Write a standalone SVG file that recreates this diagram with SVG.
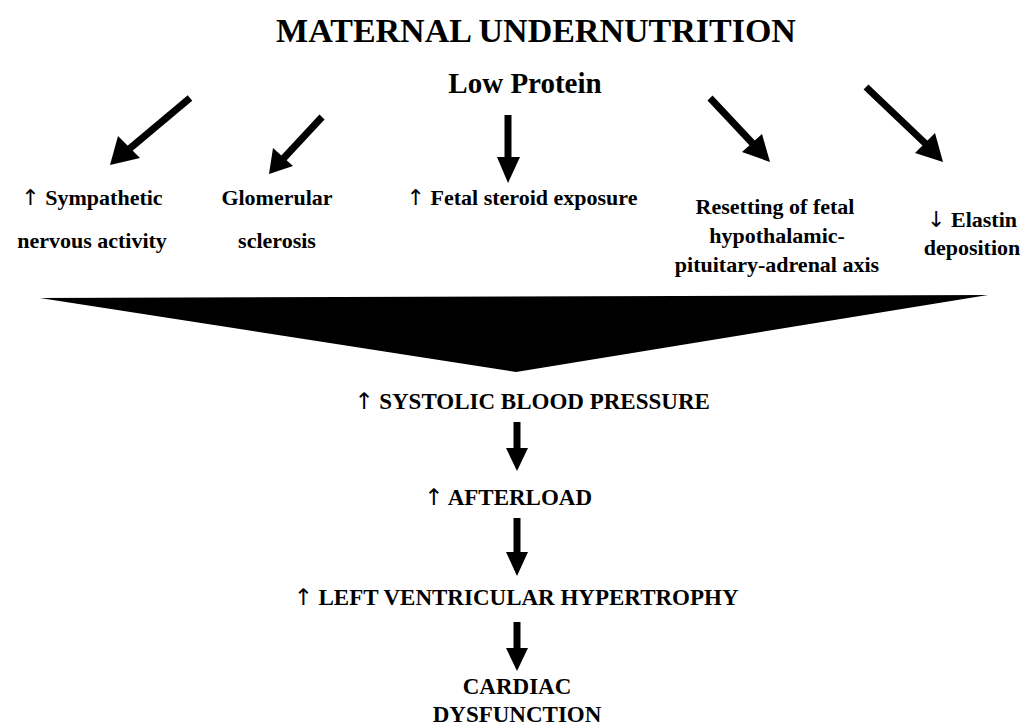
<svg xmlns="http://www.w3.org/2000/svg" width="1032" height="728" viewBox="0 0 1032 728">
<defs>
<style>
text{font-family:"Liberation Serif","Times New Roman",serif;font-weight:bold;fill:#000;}
.title{font-size:34px;}
.sub{font-size:29px;}
.lbl{font-size:22px;}
.big{font-size:23px;}
.ar{font-weight:normal;font-family:"DejaVu Sans","Liberation Sans",sans-serif;}
.shaft{stroke:#000;stroke-width:7;fill:none;}
.head{fill:#000;}
</style>
</defs>
<rect width="1032" height="728" fill="#fff"/>
<g id="title"><text class="title" x="536" y="42" text-anchor="middle">MATERNAL UNDERNUTRITION</text></g>
<g id="low-protein"><text class="sub" x="525" y="93" text-anchor="middle">Low Protein</text></g>
<g id="sympathetic"><text class="lbl" x="92" y="205" text-anchor="middle"><tspan class="ar">↑</tspan> Sympathetic</text><text class="lbl" x="92" y="248" text-anchor="middle">nervous activity</text></g>
<g id="glomerular"><text class="lbl" x="277" y="205" text-anchor="middle">Glomerular</text><text class="lbl" x="277" y="248" text-anchor="middle">sclerosis</text></g>
<g id="steroid"><text class="lbl" x="522" y="205" text-anchor="middle"><tspan class="ar">↑</tspan> Fetal steroid exposure</text></g>
<g id="hpa"><text class="lbl" x="775" y="214" text-anchor="middle">Resetting of  fetal</text><text class="lbl" x="777" y="243" text-anchor="middle">hypothalamic-</text><text class="lbl" x="777" y="272" text-anchor="middle">pituitary-adrenal axis</text></g>
<g id="elastin"><text class="lbl" x="972" y="227" text-anchor="middle"><tspan class="ar">↓</tspan> Elastin</text><text class="lbl" x="972" y="255" text-anchor="middle">deposition</text></g>
<g id="funnel"><polygon points="40,298 988,295 516,372" fill="#000"/></g>
<g id="sbp"><text class="big" x="532" y="409" text-anchor="middle"><tspan class="ar">↑</tspan> SYSTOLIC BLOOD PRESSURE</text></g>
<g id="afterload"><text class="big" x="508" y="505" text-anchor="middle"><tspan class="ar">↑</tspan> AFTERLOAD</text></g>
<g id="lvh"><text class="big" x="516" y="605" text-anchor="middle"><tspan class="ar">↑</tspan>  LEFT VENTRICULAR HYPERTROPHY</text></g>
<g id="cardiac"><text class="big" x="517" y="694" text-anchor="middle">CARDIAC</text><text class="big" x="517" y="722" text-anchor="middle">DYSFUNCTION</text></g>
<g id="connectors">
<line class="shaft" x1="190" y1="98" x2="128" y2="150"/><polygon class="head" points="110,165 118,136 140,158"/>
<line class="shaft" x1="322" y1="117" x2="282" y2="160"/><polygon class="head" points="269,174 273,148 293,166"/>
<line class="shaft" x1="508" y1="115" x2="508" y2="160"/><polygon class="head" points="497,157 520,157 508,183"/>
<line class="shaft" x1="710" y1="98" x2="756" y2="147"/><polygon class="head" points="770,162 742,152 762,134"/>
<line class="shaft" x1="866" y1="87" x2="928" y2="146"/><polygon class="head" points="943,162 915,153 935,133"/>
<line class="shaft" x1="517" y1="422" x2="517" y2="450"/><polygon class="head" points="506,448 528,448 517,471"/>
<line class="shaft" x1="517" y1="518" x2="517" y2="554"/><polygon class="head" points="506,552 528,552 517,576"/>
<line class="shaft" x1="517" y1="622" x2="517" y2="650"/><polygon class="head" points="506,648 528,648 517,671"/>
</g>
</svg>
